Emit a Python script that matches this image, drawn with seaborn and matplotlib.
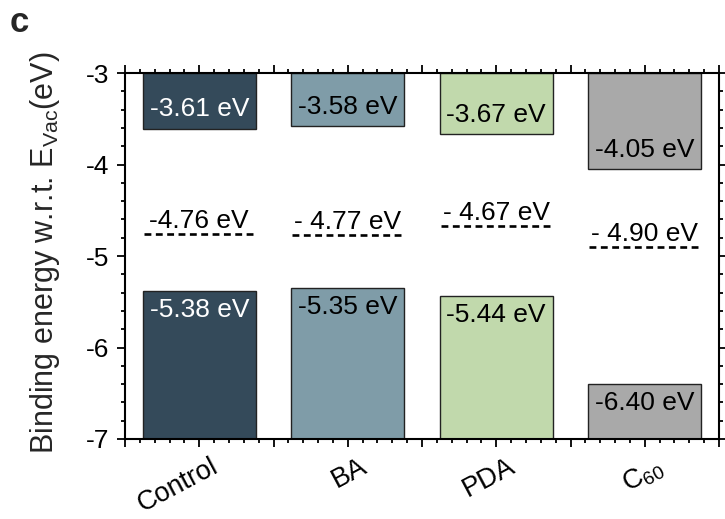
import numpy as np
import pandas as pd
import matplotlib
matplotlib.use("Agg")
import matplotlib.pyplot as plt
import matplotlib.transforms as mtransforms
from matplotlib.ticker import MultipleLocator
import seaborn as sns

# Energy levels (eV, relative to vacuum) for each film
samples = ["Control", "BA", "PDA", "C60"]
tick_labels = ["Control", "BA", "PDA", r"C$\mathregular{_{60}}$"]
cbm = [-3.61, -3.58, -3.67, -4.05]
vbm = [-5.38, -5.35, -5.44, -6.40]
fermi = [-4.76, -4.77, -4.67, -4.90]
fermi_text = ["-4.76 eV", "- 4.77 eV", "- 4.67 eV", "- 4.90 eV"]
y_ticks = [-3, -4, -5, -6, -7]

colors = ["#344a5a", "#7f9ca8", "#c1d9ac", "#a9a9a9"]
label_colors = ["white", "black", "black", "black"]

E_TOP, E_BOTTOM = -3.0, -7.0

sns.set_theme(style="ticks")
plt.rcParams["font.family"] = ["Liberation Sans", "DejaVu Sans"]
plt.rcParams["mathtext.fontset"] = "custom"
plt.rcParams["mathtext.rm"] = "Liberation Sans"
plt.rcParams["axes.unicode_minus"] = False

df = pd.DataFrame({"sample": samples, "cbm": cbm, "vbm": vbm})
df["cb_depth"] = df["cbm"] - E_TOP
df["vb_height"] = df["vbm"] - E_BOTTOM

fig = plt.figure(figsize=(7.25, 5.19), dpi=100)
ax = fig.add_axes([125 / 725, 1 - 439 / 519, 594 / 725, 366 / 519])

bar_w = 0.76
common = dict(data=df, x="sample", hue="sample", palette=colors, width=bar_w,
              saturation=1, edgecolor="#222222", linewidth=1.0, legend=False,
              errorbar=None, ax=ax)
# conduction-band bars hang from the top of the scale, valence-band bars rise from the bottom
sns.barplot(y="cb_depth", bottom=E_TOP, **common)
sns.barplot(y="vb_height", bottom=E_BOTTOM, **common)

xpos = np.arange(len(samples))
ax.hlines(fermi, xpos - 0.375, xpos + 0.375, colors="black", linewidth=1.9,
          linestyles=(0, (2.6, 1.7)))

fs = 19
for i, x in enumerate(xpos):
    ax.annotate(f"{cbm[i]:.2f} eV", xy=(x, cbm[i]), xytext=(0, 14),
                textcoords="offset points", ha="center", va="center",
                fontsize=fs, color=label_colors[i])
    ax.annotate(f"{vbm[i]:.2f} eV", xy=(x, vbm[i]), xytext=(0, -5),
                textcoords="offset points", ha="center", va="top",
                fontsize=fs, color=label_colors[i])
    ax.annotate(fermi_text[i], xy=(x, fermi[i]), xytext=(0, 4.3),
                textcoords="offset points", ha="center", va="baseline",
                fontsize=fs, color="black")

ax.set_xlim(-0.5, 3.5)
ax.set_ylim(E_BOTTOM, E_TOP)

major_x = np.arange(-0.5, 3.51, 0.5)
ax.set_xticks(major_x)
ax.set_xticklabels(["" if abs(v - round(v)) > 1e-6 else tick_labels[int(round(v))]
                    for v in major_x])
ax.xaxis.set_minor_locator(MultipleLocator(0.1))
ax.set_yticks(y_ticks)
ax.set_yticklabels([str(v) for v in y_ticks])
ax.yaxis.set_minor_locator(MultipleLocator(0.2))

ax.tick_params(which="both", direction="out", top=True, right=True,
               bottom=True, left=True, labeltop=False, labelright=False,
               width=1.3, colors="black", labelsize=fs)
ax.tick_params(which="major", length=5.5, pad=6)
ax.tick_params(which="minor", length=3)

shift = mtransforms.ScaledTranslation(8 / 72, 1 / 72, fig.dpi_scale_trans)
for lbl in ax.get_xticklabels():
    lbl.set_rotation(28)
    lbl.set_ha("right")
    lbl.set_va("top")
    lbl.set_rotation_mode("anchor")
    lbl.set_fontsize(19.5)
    lbl.set_transform(lbl.get_transform() + shift)

for sp in ax.spines.values():
    sp.set_linewidth(1.5)
    sp.set_color("black")

ax.set_xlabel("")
ax.set_ylabel(r"Binding energy w.r.t. E$\mathregular{_{Vac}}$(eV)", fontsize=22)
ax.yaxis.set_label_coords(-0.106, 0.508)

fig.text(10 / 725, 1 - 6 / 519, "c", fontsize=25, fontweight="bold",
         ha="left", va="top")

fig.savefig("out.png", dpi=100)
